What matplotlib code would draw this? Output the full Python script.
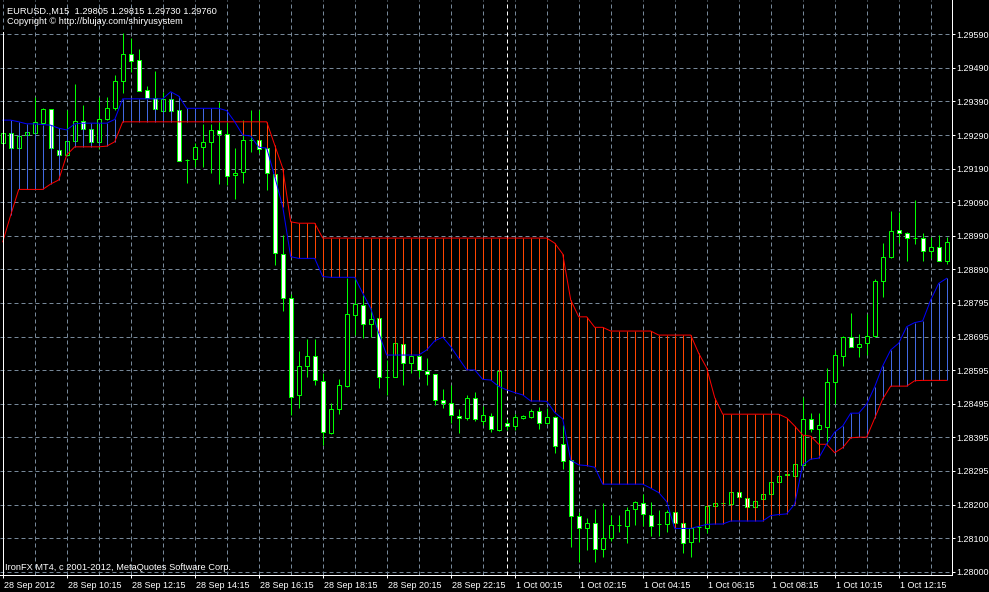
import matplotlib
matplotlib.use("Agg")
import matplotlib.pyplot as plt
from matplotlib.patches import Rectangle
from matplotlib.transforms import ScaledTranslation
import numpy as np

plt.rcParams['font.family'] = ['Liberation Sans', 'DejaVu Sans']

# ---------------- data (EURUSD M15, 28 Sep 08:15 -> 1 Oct 13:45) ----------------
open_ = [1.29268, 1.29297, 1.29253, 1.29291, 1.29299, 1.29328, 1.29368, 1.29247, 1.29232, 1.29273,
         1.29333, 1.29309, 1.29270, 1.29338, 1.29371, 1.29451, 1.29531, 1.29513, 1.29424, 1.29402,
         1.29364, 1.29398, 1.29366, 1.29218, 1.29220, 1.29256, 1.29270, 1.29306, 1.29294, 1.29173,
         1.29182, 1.29277, 1.29277, 1.29253, 1.29176, 1.28939, 1.28809, 1.28523, 1.28609, 1.28638,
         1.28565, 1.28409, 1.28480, 1.28550, 1.28759, 1.28788, 1.28732, 1.28750, 1.28577, 1.28577,
         1.28673, 1.28618, 1.28638, 1.28595, 1.28584, 1.28507, 1.28498, 1.28462, 1.28454, 1.28513,
         1.28447, 1.28461, 1.28419, 1.28439, 1.28432, 1.28454, 1.28459, 1.28476, 1.28441, 1.28459,
         1.28377, 1.28330, 1.28165, 1.28128, 1.28143, 1.28066, 1.28099, 1.28137, 1.28135, 1.28185,
         1.28202, 1.28168, 1.28141, 1.28141, 1.28176, 1.28143, 1.28089, 1.28131, 1.28128, 1.28194,
         1.28202, 1.28200, 1.28237, 1.28219, 1.28191, 1.28214, 1.28229, 1.28265, 1.28287, 1.28284,
         1.28316, 1.28451, 1.28421, 1.28429, 1.28562, 1.28639, 1.28695, 1.28666, 1.28676, 1.28697,
         1.28861, 1.28932, 1.29011, 1.29003, 1.28988, 1.28986, 1.28950, 1.28962, 1.28920]

high = [1.29304, 1.29298, 1.29292, 1.29302, 1.29404, 1.29372, 1.29370, 1.29251, 1.29366, 1.29443,
        1.29380, 1.29322, 1.29404, 1.29404, 1.29470, 1.29593, 1.29578, 1.29546, 1.29437, 1.29482,
        1.29419, 1.29407, 1.29375, 1.29221, 1.29267, 1.29325, 1.29325, 1.29391, 1.29331, 1.29254,
        1.29336, 1.29366, 1.29366, 1.29257, 1.29177, 1.28996, 1.28821, 1.28653, 1.28688, 1.28688,
        1.28587, 1.28498, 1.28570, 1.28868, 1.28868, 1.28819, 1.28779, 1.28754, 1.28626, 1.28676,
        1.28674, 1.28641, 1.28641, 1.28631, 1.28585, 1.28540, 1.28552, 1.28480, 1.28523, 1.28533,
        1.28490, 1.28470, 1.28595, 1.28451, 1.28467, 1.28464, 1.28480, 1.28486, 1.28483, 1.28461,
        1.28434, 1.28331, 1.28178, 1.28158, 1.28185, 1.28204, 1.28168, 1.28168, 1.28191, 1.28210,
        1.28230, 1.28207, 1.28183, 1.28183, 1.28177, 1.28144, 1.28132, 1.28135, 1.28200, 1.28203,
        1.28204, 1.28244, 1.28242, 1.28224, 1.28212, 1.28232, 1.28266, 1.28289, 1.28290, 1.28321,
        1.28518, 1.28470, 1.28469, 1.28602, 1.28656, 1.28697, 1.28764, 1.28703, 1.28762, 1.28865,
        1.28972, 1.29067, 1.29063, 1.29006, 1.29100, 1.29003, 1.28991, 1.28996, 1.28989]

low = [1.29262, 1.29252, 1.29251, 1.29289, 1.29296, 1.29326, 1.29252, 1.29227, 1.29230, 1.29271,
       1.29304, 1.29268, 1.29250, 1.29336, 1.29366, 1.29417, 1.29479, 1.29422, 1.29401, 1.29366,
       1.29363, 1.29363, 1.29214, 1.29151, 1.29198, 1.29198, 1.29180, 1.29147, 1.29144, 1.29103,
       1.29150, 1.29243, 1.29239, 1.29129, 1.28907, 1.28772, 1.28464, 1.28483, 1.28575, 1.28552,
       1.28375, 1.28407, 1.28467, 1.28546, 1.28700, 1.28691, 1.28695, 1.28543, 1.28523, 1.28576,
       1.28552, 1.28587, 1.28577, 1.28552, 1.28493, 1.28483, 1.28439, 1.28411, 1.28449, 1.28447,
       1.28434, 1.28414, 1.28417, 1.28419, 1.28419, 1.28451, 1.28454, 1.28421, 1.28437, 1.28350,
       1.28303, 1.28074, 1.28030, 1.28064, 1.28030, 1.28044, 1.28092, 1.28118, 1.28084, 1.28138,
       1.28135, 1.28106, 1.28106, 1.28118, 1.28128, 1.28054, 1.28044, 1.28089, 1.28115, 1.28192,
       1.28200, 1.28197, 1.28217, 1.28188, 1.28188, 1.28212, 1.28225, 1.28264, 1.28286, 1.28283,
       1.28313, 1.28414, 1.28378, 1.28378, 1.28496, 1.28609, 1.28665, 1.28634, 1.28641, 1.28693,
       1.28812, 1.28927, 1.28972, 1.28920, 1.28969, 1.28920, 1.28927, 1.28918, 1.28910]

close_ = [1.29298, 1.29253, 1.29289, 1.29300, 1.29330, 1.29369, 1.29253, 1.29232, 1.29273, 1.29333,
          1.29309, 1.29270, 1.29338, 1.29371, 1.29451, 1.29531, 1.29510, 1.29423, 1.29402, 1.29368,
          1.29399, 1.29364, 1.29216, 1.29218, 1.29256, 1.29270, 1.29306, 1.29294, 1.29171, 1.29180,
          1.29277, 1.29277, 1.29250, 1.29179, 1.28942, 1.28809, 1.28518, 1.28609, 1.28638, 1.28567,
          1.28412, 1.28481, 1.28552, 1.28762, 1.28792, 1.28732, 1.28747, 1.28577, 1.28577, 1.28676,
          1.28618, 1.28638, 1.28597, 1.28585, 1.28508, 1.28498, 1.28464, 1.28454, 1.28513, 1.28451,
          1.28464, 1.28421, 1.28595, 1.28431, 1.28457, 1.28461, 1.28475, 1.28439, 1.28457, 1.28373,
          1.28328, 1.28166, 1.28128, 1.28143, 1.28066, 1.28099, 1.28137, 1.28137, 1.28183, 1.28205,
          1.28171, 1.28135, 1.28141, 1.28176, 1.28143, 1.28086, 1.28128, 1.28133, 1.28194, 1.28202,
          1.28203, 1.28237, 1.28220, 1.28191, 1.28210, 1.28229, 1.28265, 1.28284, 1.28289, 1.28318,
          1.28451, 1.28421, 1.28434, 1.28562, 1.28641, 1.28695, 1.28666, 1.28674, 1.28697, 1.28860,
          1.28930, 1.29008, 1.29001, 1.28986, 1.28988, 1.28950, 1.28962, 1.28919, 1.28975]

blue_line = [1.29336, 1.29336, 1.29331, 1.29325, 1.29325, 1.29323, 1.29321, 1.29312, 1.29307, 1.29325,
             1.29327, 1.29327, 1.29327, 1.29327, 1.29338, 1.29399, 1.29399, 1.29399, 1.29399, 1.29399,
             1.29399, 1.29420, 1.29407, 1.29371, 1.29371, 1.29371, 1.29371, 1.29371, 1.29364, 1.29331,
             1.29292, 1.29289, 1.29256, 1.29253, 1.29169, 1.29080, 1.28932, 1.28927, 1.28927, 1.28927,
             1.28873, 1.28871, 1.28871, 1.28871, 1.28871, 1.28824, 1.28779, 1.28706, 1.28641, 1.28641,
             1.28641, 1.28641, 1.28641, 1.28656, 1.28683, 1.28694, 1.28666, 1.28631, 1.28597, 1.28597,
             1.28569, 1.28567, 1.28548, 1.28538, 1.28530, 1.28523, 1.28505, 1.28505, 1.28504, 1.28471,
             1.28452, 1.28330, 1.28316, 1.28314, 1.28309, 1.28259, 1.28259, 1.28259, 1.28259, 1.28259,
             1.28259, 1.28247, 1.28234, 1.28207, 1.28128, 1.28128, 1.28128, 1.28134, 1.28140, 1.28141,
             1.28141, 1.28150, 1.28150, 1.28150, 1.28150, 1.28150, 1.28166, 1.28169, 1.28171, 1.28200,
             1.28316, 1.28333, 1.28336, 1.28378, 1.28413, 1.28431, 1.28469, 1.28469, 1.28496, 1.28547,
             1.28609, 1.28656, 1.28676, 1.28725, 1.28737, 1.28742, 1.28804, 1.28853, 1.28868]

red_line = [1.28976, 1.29055, 1.29131, 1.29131, 1.29131, 1.29131, 1.29147, 1.29159, 1.29233, 1.29257,
            1.29257, 1.29257, 1.29257, 1.29259, 1.29272, 1.29331, 1.29331, 1.29331, 1.29331, 1.29331,
            1.29331, 1.29331, 1.29331, 1.29331, 1.29331, 1.29331, 1.29331, 1.29331, 1.29331, 1.29331,
            1.29331, 1.29331, 1.29331, 1.29331, 1.29262, 1.29194, 1.29035, 1.29031, 1.29031, 1.29031,
            1.28987, 1.28987, 1.28987, 1.28987, 1.28987, 1.28987, 1.28987, 1.28987, 1.28987, 1.28987,
            1.28987, 1.28987, 1.28987, 1.28987, 1.28987, 1.28987, 1.28987, 1.28987, 1.28987, 1.28987,
            1.28987, 1.28987, 1.28987, 1.28987, 1.28987, 1.28987, 1.28987, 1.28987, 1.28987, 1.28972,
            1.28940, 1.28804, 1.28754, 1.28754, 1.28723, 1.28723, 1.28712, 1.28712, 1.28712, 1.28712,
            1.28712, 1.28712, 1.28700, 1.28700, 1.28700, 1.28700, 1.28700, 1.28646, 1.28603, 1.28515,
            1.28466, 1.28466, 1.28466, 1.28466, 1.28466, 1.28466, 1.28466, 1.28466, 1.28455, 1.28431,
            1.28404, 1.28401, 1.28377, 1.28377, 1.28352, 1.28367, 1.28396, 1.28398, 1.28398, 1.28454,
            1.28511, 1.28549, 1.28549, 1.28549, 1.28565, 1.28566, 1.28566, 1.28566, 1.28566]

x_tick_bars = [0, 8, 16, 24, 32, 40, 48, 56, 64, 72, 80, 88, 96, 104, 112]
x_tick_labels = ["28 Sep 2012", "28 Sep 10:15", "28 Sep 12:15", "28 Sep 14:15", "28 Sep 16:15",
                 "28 Sep 18:15", "28 Sep 20:15", "28 Sep 22:15", "1 Oct 00:15", "1 Oct 02:15",
                 "1 Oct 04:15", "1 Oct 06:15", "1 Oct 08:15", "1 Oct 10:15", "1 Oct 12:15"]
y_tick_labels = ["1.28000", "1.28100", "1.28200", "1.28295", "1.28395", "1.28495", "1.28595",
                 "1.28695", "1.28795", "1.28890", "1.28990", "1.29090", "1.29190", "1.29290",
                 "1.29390", "1.29490", "1.29590"]
y_tick_low, y_tick_high = 1.28000, 1.29590
day_separator_bar = 63

# ---------------- figure ----------------
W, H, DPI = 989, 592, 100
PX = 72.0 / DPI
LIME = '#00FF00'
GRID = '#778899'

fig = plt.figure(figsize=(W / DPI, H / DPI), dpi=DPI, facecolor='black')
ax = fig.add_axes([0, (H - 574.7) / H, 951.7 / W, 574.7 / H])
ax.set_facecolor('black')

n = len(close_)
xs = np.arange(n)
ax.set_xlim(-0.34, 118.625)
ax.set_ylim(1.279911, 1.296914)

yticks = np.linspace(y_tick_low, y_tick_high, len(y_tick_labels))

# grid
for yv in yticks:
    ax.axhline(yv, color=GRID, lw=PX, dashes=(4, 3), zorder=0.5)
for b in range(0, n, 4):
    ax.axvline(b, color=GRID, lw=PX, dashes=(4, 3), zorder=0.5)

# day separator
ax.axvline(day_separator_bar, color='white', lw=PX, dashes=(4, 3), zorder=0.8)

# candles
ax.vlines(xs, low, high, color=LIME, lw=PX, zorder=2)
for i in range(n):
    o, c = open_[i], close_[i]
    if c == o:
        ax.hlines(o, i - 0.25, i + 0.25, color=LIME, lw=PX, zorder=3)
    else:
        ax.add_patch(Rectangle((i - 0.25, min(o, c)), 0.5, abs(c - o),
                               facecolor='white' if c < o else 'black',
                               edgecolor=LIME, lw=PX, zorder=3))

# cloud hatch between the two lines
for i in range(n):
    b, r = blue_line[i], red_line[i]
    if b == r:
        continue
    ax.vlines(i, min(b, r), max(b, r), color='#4169E1' if b > r else '#FF4500',
              lw=PX, zorder=4)

ax.plot(xs, red_line, color='#FF0000', lw=PX, zorder=5)
ax.plot(xs, blue_line, color='#0000FF', lw=PX, zorder=5)

# left white marker line
ax.axvline(0, ymin=0, ymax=(574.7 - 32) / 574.7, color='white', lw=PX, zorder=6)

# spines / axes
for s in ('top', 'left'):
    ax.spines[s].set_visible(False)
for s in ('right', 'bottom'):
    ax.spines[s].set_color('white')
    ax.spines[s].set_linewidth(PX)

ax.yaxis.tick_right()
ax.set_yticks(yticks)
ax.set_yticklabels(y_tick_labels)
ax.set_xticks(x_tick_bars)
ax.set_xticklabels(x_tick_labels)
ax.tick_params(axis='both', colors='white', width=PX, length=3 * PX,
               labelsize=6.5, direction='out')
ax.tick_params(axis='y', pad=2 * PX)
ax.tick_params(axis='x', pad=3 * PX)
offset = ScaledTranslation(1.0 / DPI, 0, fig.dpi_scale_trans)
for lbl in ax.get_xticklabels():
    lbl.set_horizontalalignment('left')
    lbl.set_transform(lbl.get_transform() + offset)

# texts
fig.text(7 / W, 1 - 14 / H, "EURUSD.,M15  1.29805 1.29815 1.29730 1.29760",
         color='white', fontsize=6.7, ha='left', va='baseline')
fig.text(7 / W, 1 - 24 / H, "Copyright \u00a9 http://blujay.com/shiryusystem",
         color='white', fontsize=6.7, ha='left', va='baseline')
fig.text(5 / W, 1 - 570 / H, "IronFX MT4, c 2001-2012, MetaQuotes Software Corp.",
         color='white', fontsize=6.7, ha='left', va='baseline')

fig.savefig('out.png', dpi=DPI, facecolor='black')
